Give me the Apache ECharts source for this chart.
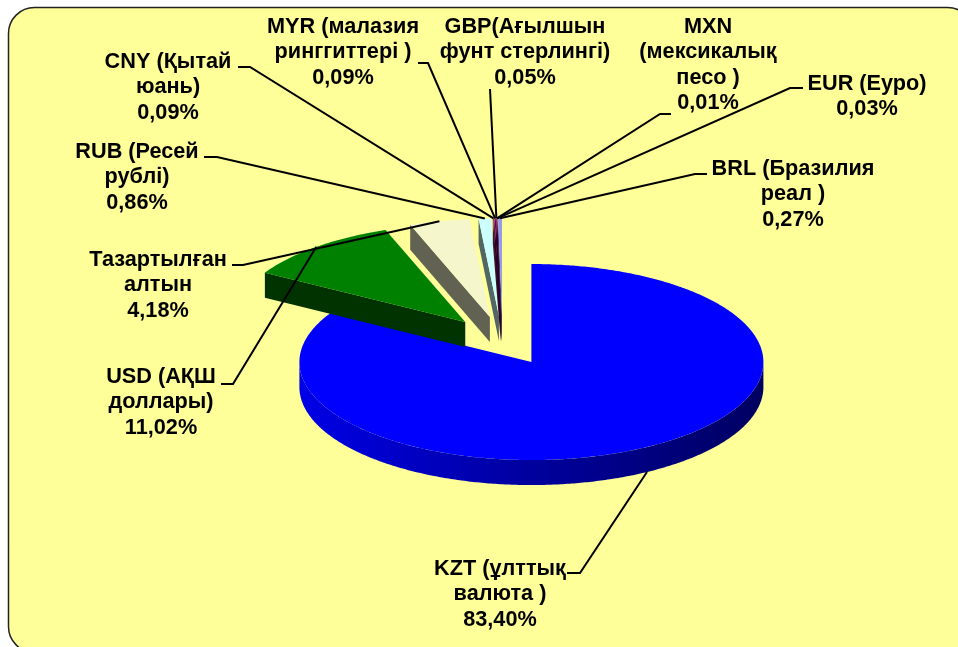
<!DOCTYPE html>
<html>
<head>
<meta charset="utf-8">
<title>Валюта құрылымы</title>
<script src="https://cdn.jsdelivr.net/npm/echarts@6/dist/echarts.min.js"></script>
<style>
  html, body { margin: 0; padding: 0; background: #fff; }
  #chart { width: 958px; height: 647px; }
</style>
</head>
<body>
<div id="chart"></div>
<script>
const categories = ["KZT", "USD", "Gold", "RUB", "CNY", "MYR", "GBP", "MXN", "EUR", "BRL"]
const shares = [83.40, 11.02, 4.18, 0.86, 0.09, 0.09, 0.05, 0.01, 0.03, 0.27]
const labelNames = [
  "KZT (ұлттық\nвалюта )",
  "USD (АҚШ\nдоллары)",
  "Тазартылған\nалтын",
  "RUB (Ресей\nрублі)",
  "CNY (Қытай\nюань)",
  "MYR (малазия\nринггиттері )",
  "GBP(Ағылшын\nфунт стерлингі)",
  "MXN\n(мексикалық\nпесо )",
  "EUR (Еуро)",
  "BRL (Бразилия\nреал )",
]
const sliceColors = ["#0000ff", "#008000", "#f6f6cc", "#ccffff", "#993366", "#660066", "#660066", "#660066", "#660066", "#9999ee"]

// pie projection, fitted to the reference
const CX = 502.5
const CY = 340.8
const RX = 232
const RY = 98
const DEPTH = 25
const EXPLODE = 0.25

// label layout: text centre x, text top y, leader start and elbow
const labelBoxes = [
  [500, 556, [567, 573], [580, 573]],
  [161, 364, [221, 384], [233, 384]],
  [158, 247, [232, 265], [243, 265]],
  [137, 139, [204, 157], [217, 157]],
  [168, 49, [238, 67], [250, 67]],
  [343, 14, [418, 63], [428, 63]],
  [525, 14, null, [490, 89]],
  [708, 14, [671, 114], [660, 114]],
  [867, 71, [803, 88], [790, 88]],
  [793, 156, [707, 174], [695, 174]],
]

const total = shares.reduce((a, b) => a + b, 0)
const cum = [0]
shares.forEach((v, i) => cum.push(cum[i] + v))
const ang = (p) => (p / total) * Math.PI * 2

function apexOf(i) {
  const mid = ang((cum[i] + cum[i + 1]) / 2)
  return [CX + EXPLODE * RX * Math.sin(mid), CY - EXPLODE * RY * Math.cos(mid)]
}

function rimPoint(apex, a, drop) {
  return [apex[0] + RX * Math.sin(a), apex[1] - RY * Math.cos(a) + drop]
}

function arc(apex, a0, a1, drop) {
  const n = Math.max(2, Math.ceil(Math.abs(a1 - a0) / 0.01))
  const pts = []
  for (let k = 0; k <= n; k++) pts.push(rimPoint(apex, a0 + ((a1 - a0) * k) / n, drop))
  return pts
}

// multiply a #rrggbb colour by f
function shade(hex, f) {
  const n = parseInt(hex.slice(1), 16)
  const c = [n >> 16, (n >> 8) & 255, n & 255].map((v) => Math.round(v * f))
  return "rgb(" + c.join(",") + ")"
}

function renderSlice(params, api) {
  const i = params.dataIndex
  const a0 = ang(cum[i])
  const a1 = ang(cum[i + 1])
  const apex = apexOf(i)
  const color = sliceColors[i]
  const side = shade(color, 0.4)
  const children = []
  const wall = (a) => ({
    type: "polygon",
    shape: { points: [apex, rimPoint(apex, a, 0), rimPoint(apex, a, DEPTH), [apex[0], apex[1] + DEPTH]] },
    style: { fill: side },
  })
  if (Math.sin(a0) < -0.001) children.push(wall(a0))
  if (Math.sin(a1) > 0.001) children.push(wall(a1))

  const r0 = Math.max(a0, Math.PI / 2)
  const r1 = Math.min(a1, Math.PI * 1.5)
  if (r1 > r0) {
    // gradient runs dark on the right, bright on the left
    children.push({
      type: "polygon",
      shape: { points: arc(apex, r0, r1, 0).concat(arc(apex, r1, r0, DEPTH)) },
      style: {
        fill: {
          type: "linear", x: 0, y: 0, x2: 1, y2: 0,
          colorStops: [
            { offset: 0, color: shade(color, 0.9) },
            { offset: 0.5, color: shade(color, 0.62) },
            { offset: 1, color: shade(color, 0.38) },
          ],
        },
      },
    })
  }

  children.push({
    type: "polygon",
    shape: { points: [apex].concat(arc(apex, a0, a1, 0)) },
    style: { fill: color },
  })
  return { type: "group", children }
}

function renderLabel(params, api) {
  const i = params.dataIndex
  const box = labelBoxes[i]
  const a = ang((cum[i] + cum[i + 1]) / 2)
  const onFront = Math.cos(a) < 0
  const target = rimPoint(apexOf(i), a, onFront ? DEPTH : 0)
  const pts = (box[2] ? [box[2], box[3]] : [box[3]]).concat([target])
  return {
    type: "group",
    children: [
      {
        type: "polyline",
        shape: { points: pts },
        style: { stroke: "#000", lineWidth: 2, fill: null },
      },
      {
        type: "text",
        style: {
          x: box[0],
          y: box[1],
          text: labelNames[i] + "\n" + api.value(0).toFixed(2).replace(".", ",") + "%",
          align: "center",
          verticalAlign: "top",
          fontFamily: "Liberation Sans",
          fontWeight: "bold",
          fontSize: 21.7,
          lineHeight: 25.5,
          fill: "#000",
        },
      },
    ],
  }
}

const chart = echarts.init(document.getElementById("chart"), null, { renderer: "canvas" })
chart.setOption({
  animation: false,
  backgroundColor: "#fff",
  graphic: [
    {
      type: "rect",
      z: -1,
      shape: { x: 8.5, y: 7.5, width: 965, height: 645, r: 26 },
      style: { fill: "#ffff99", stroke: "#222", lineWidth: 1.5 },
    },
  ],
  series: [
    {
      type: "custom",
      coordinateSystem: "none",
      silent: true,
      z: 2,
      data: shares.map((v, i) => ({ name: categories[i], value: [v] })),
      renderItem: renderSlice,
    },
    {
      type: "custom",
      coordinateSystem: "none",
      silent: true,
      z: 3,
      data: shares.map((v, i) => ({ name: categories[i], value: [v] })),
      renderItem: renderLabel,
    },
  ],
})
</script>
</body>
</html>
